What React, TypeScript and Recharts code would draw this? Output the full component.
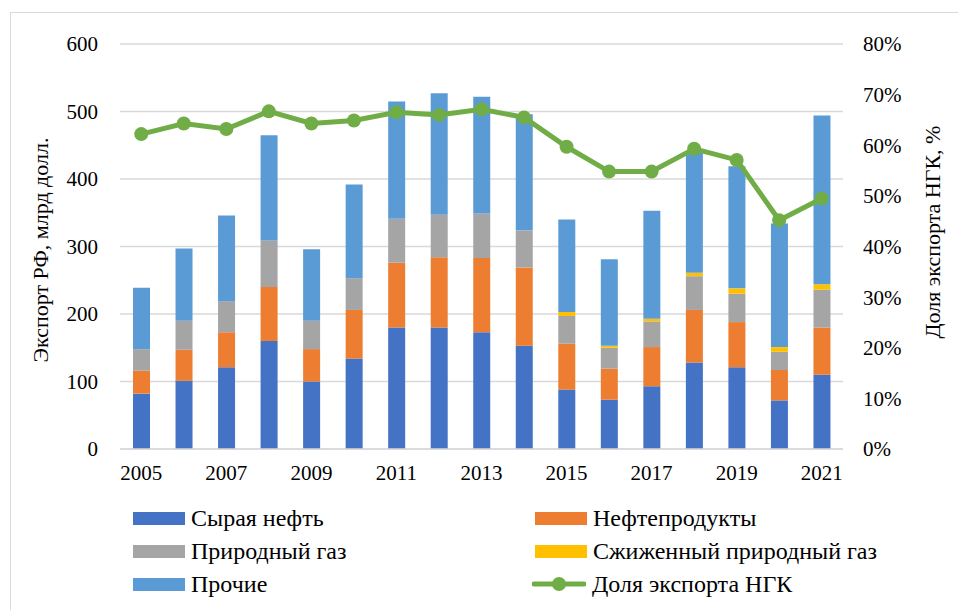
import React from "react";
import { ComposedChart, Bar, Line, XAxis, YAxis, CartesianGrid } from "recharts";

const FONT = "'Liberation Serif', 'Times New Roman', serif";
const GRID = "#d9d9d9";

const years = ["2005", "2006", "2007", "2008", "2009", "2010", "2011", "2012", "2013", "2014", "2015", "2016", "2017", "2018", "2019", "2020", "2021"];
const crude = [82, 101, 121, 160, 100, 134, 180, 180, 173, 153, 88, 73, 93, 128, 121, 72, 110];
const products = [34, 46, 52, 80, 48, 72, 96, 104, 110, 116, 68, 46, 58, 78, 67, 45, 70];
const gas = [32, 43, 46, 69, 42, 47, 65, 63, 66, 55, 41, 31, 38, 50, 42, 27, 56];
const lng = [0, 0, 0, 0, 0, 0, 0, 0, 0, 0, 6, 3, 4, 5, 8, 7, 8];
const other = [91, 107, 127, 156, 106, 139, 174, 180, 173, 172, 137, 128, 160, 178, 181, 183, 250];
const share = [62.2, 64.3, 63.2, 66.7, 64.3, 64.9, 66.5, 66.0, 67.1, 65.5, 59.7, 54.8, 54.8, 59.3, 57.1, 45.2, 49.5];

const leftTicks = [0, 100, 200, 300, 400, 500, 600];
const rightTicks = [0, 10, 20, 30, 40, 50, 60, 70, 80];

const series = [
  { key: "crude", name: "Сырая нефть", color: "#4472c4" },
  { key: "products", name: "Нефтепродукты", color: "#ed7d31" },
  { key: "gas", name: "Природный газ", color: "#a5a5a5" },
  { key: "lng", name: "Сжиженный природный газ", color: "#ffc000" },
  { key: "other", name: "Прочие", color: "#5b9bd5" },
];
const lineSeries = { key: "share", name: "Доля экспорта НГК", color: "#70ad47" };

const data = years.map((year, i) => ({
  year,
  crude: crude[i],
  products: products[i],
  gas: gas[i],
  lng: lng[i],
  other: other[i],
  share: share[i],
}));

const tickStyle = { fontSize: 21, fontFamily: FONT, fill: "#000" };

function LegendMarker({ color, line }: { color: string; line?: boolean }) {
  if (line) {
    return (
      <svg width={54} height={16} style={{ marginRight: 6 }}>
        <line x1={2} y1={8} x2={52} y2={8} stroke={color} strokeWidth={5} strokeLinecap="round" />
        <circle cx={27} cy={8} r={7} fill={color} />
      </svg>
    );
  }
  return <div style={{ width: 52, height: 13, background: color, marginRight: 6, marginLeft: 1 }} />;
}

export default function App() {
  const legendItems = [
    { ...series[0] },
    { ...series[1] },
    { ...series[2] },
    { ...series[3] },
    { ...series[4] },
    { ...lineSeries, line: true },
  ];
  return (
    <div style={{ position: "absolute", left: 0, top: 0, width: 958, height: 610, background: "#fff", overflow: "hidden" }}>
      <div style={{ position: "absolute", left: 10, top: 12, width: 960, height: 610, borderLeft: `1.5px solid ${GRID}`, borderTop: `1.5px solid ${GRID}` }} />
      <ComposedChart
        width={958}
        height={610}
        data={data}
        margin={{ top: 44, right: 10, left: 10, bottom: 121 }}
        style={{ position: "absolute", left: 0, top: 0 }}
      >
        <CartesianGrid yAxisId="left" vertical={false} stroke={GRID} strokeWidth={1.5} />
        <XAxis
          dataKey="year"
          interval={1}
          tickLine={false}
          axisLine={{ stroke: GRID, strokeWidth: 1.5 }}
          tick={tickStyle}
          tickMargin={10}
          height={40}
        />
        <YAxis
          yAxisId="left"
          domain={[0, 600]}
          ticks={leftTicks}
          width={110}
          axisLine={false}
          tickLine={false}
          tickSize={0}
          tickMargin={22}
          tick={tickStyle}
          label={{
            content: () => (
              <text x={40} y={250} transform="rotate(-90 40 250)" textAnchor="middle" dominantBaseline="central" fontSize={22} fontFamily={FONT} fill="#000">
                Экспорт РФ, млрд долл.
              </text>
            ),
          }}
        />
        <YAxis
          yAxisId="right"
          orientation="right"
          domain={[0, 80]}
          ticks={rightTicks}
          width={105}
          axisLine={false}
          tickLine={false}
          tickSize={0}
          tickMargin={20}
          tick={tickStyle}
          tickFormatter={(v) => `${v}%`}
          label={{
            content: () => (
              <text x={932} y={232} transform="rotate(-90 932 232)" textAnchor="middle" dominantBaseline="central" fontSize={22} fontFamily={FONT} fill="#000">
                Доля экспорта НГК, %
              </text>
            ),
          }}
        />
        {series.map((s) => (
          <Bar
            key={s.key}
            yAxisId="left"
            dataKey={s.key}
            name={s.name}
            stackId="a"
            fill={s.color}
            barSize={17}
            isAnimationActive={false}
          />
        ))}
        <Line
          yAxisId="right"
          dataKey={lineSeries.key}
          name={lineSeries.name}
          stroke={lineSeries.color}
          strokeWidth={5}
          dot={{ r: 7, fill: lineSeries.color, stroke: lineSeries.color, strokeWidth: 0 }}
          activeDot={false}
          isAnimationActive={false}
        />
      </ComposedChart>
      <div
        style={{
          position: "absolute",
          left: 132,
          top: 505,
          width: 800,
          display: "grid",
          gridTemplateColumns: "402px 400px",
          rowGap: 7,
          fontFamily: FONT,
          fontSize: 24,
          color: "#000",
        }}
      >
        {legendItems.map((it) => (
          <div key={it.key} style={{ display: "flex", alignItems: "center", height: 26, marginLeft: it.line ? -2 : 0 }}>
            <LegendMarker color={it.color} line={it.line} />
            <span>{it.name}</span>
          </div>
        ))}
      </div>
    </div>
  );
}
